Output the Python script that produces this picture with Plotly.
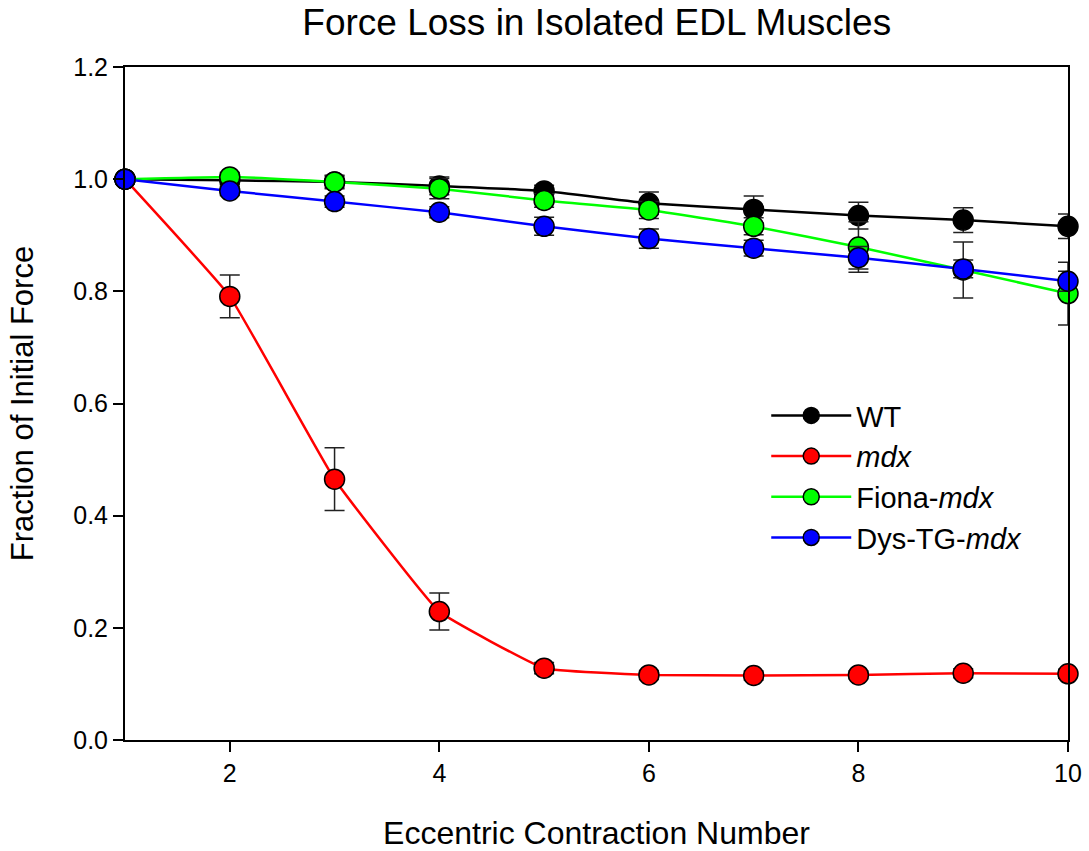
import plotly.graph_objects as go

contraction = [1, 2, 3, 4, 5, 6, 7, 8, 9, 10]

wt = [1.0, 0.998, 0.995, 0.988, 0.979, 0.957, 0.946, 0.935, 0.927, 0.916]
wt_err = [0.0, 0.008, 0.010, 0.016, 0.010, 0.020, 0.024, 0.024, 0.022, 0.022]

mdx = [1.0, 0.791, 0.465, 0.229, 0.128, 0.116, 0.115, 0.116, 0.119, 0.118]
mdx_err = [0.0, 0.038, 0.056, 0.033, 0.010, 0.008, 0.008, 0.007, 0.008, 0.008]

fiona = [1.0, 1.004, 0.995, 0.983, 0.962, 0.945, 0.916, 0.879, 0.838, 0.796]
fiona_err = [0.0, 0.008, 0.012, 0.018, 0.012, 0.015, 0.015, 0.045, 0.050, 0.056]

dys = [1.0, 0.979, 0.960, 0.941, 0.916, 0.894, 0.877, 0.860, 0.840, 0.818]
dys_err = [0.0, 0.008, 0.010, 0.010, 0.016, 0.017, 0.014, 0.020, 0.016, 0.018]

series_names = ["WT", "<i>mdx</i>", "Fiona-<i>mdx</i>", "Dys-TG-<i>mdx</i>"]
series_values = [wt, mdx, fiona, dys]
series_errors = [wt_err, mdx_err, fiona_err, dys_err]
series_colors = ["#000000", "#ff0000", "#00ff00", "#0000ff"]

y_ticks = [0.0, 0.2, 0.4, 0.6, 0.8, 1.0, 1.2]
x_ticks = [2, 4, 6, 8, 10]

FONT = "Liberation Sans, Arial, sans-serif"

fig = go.Figure()
for name, vals, errs, col in zip(series_names, series_values, series_errors, series_colors):
    fig.add_trace(go.Scatter(
        x=contraction, y=vals, name=name, mode="lines+markers",
        line=dict(color=col, width=2.5, shape="spline", smoothing=0.3),
        marker=dict(size=20, color=col, line=dict(color="black", width=1.5)),
        error_y=dict(type="data", array=errs, visible=True, color="#222222",
                     thickness=1.5, width=10),
        cliponaxis=False,
    ))

fig.update_layout(
    width=1089, height=851,
    margin=dict(l=125, r=21, t=67, b=111),
    paper_bgcolor="white", plot_bgcolor="white",
    font=dict(family=FONT, color="black"),
    title=dict(text="Force Loss in Isolated EDL Muscles", x=0.548, xanchor="center",
               y=0.974, yanchor="middle", font=dict(size=37, family=FONT, color="black")),
    legend=dict(x=0.680, y=0.52, xanchor="left", yanchor="top",
                font=dict(size=29, family=FONT, color="black"),
                bgcolor="rgba(0,0,0,0)", itemwidth=80, tracegroupgap=0),
    showlegend=True,
)

fig.update_xaxes(
    range=[1, 10], tickvals=x_ticks, ticktext=[str(v) for v in x_ticks],
    showline=True, linecolor="black", linewidth=2, mirror=True,
    ticks="outside", ticklen=10, tickwidth=2, tickcolor="black",
    tickfont=dict(size=25, family=FONT, color="black"),
    showgrid=False, zeroline=False, automargin=False,
    title=dict(text="Eccentric Contraction Number", standoff=37,
               font=dict(size=32, family=FONT, color="black")),
)
fig.update_yaxes(
    range=[0, 1.2], tickvals=y_ticks, ticktext=[f"{v:.1f}" for v in y_ticks],
    showline=True, linecolor="black", linewidth=2, mirror=True,
    ticks="outside", ticklen=10, tickwidth=2, tickcolor="black",
    tickfont=dict(size=25, family=FONT, color="black"),
    showgrid=False, zeroline=False, automargin=False,
    title=dict(text="Fraction of Initial Force", standoff=30,
               font=dict(size=31, family=FONT, color="black")),
)

fig.write_html("out.html")
